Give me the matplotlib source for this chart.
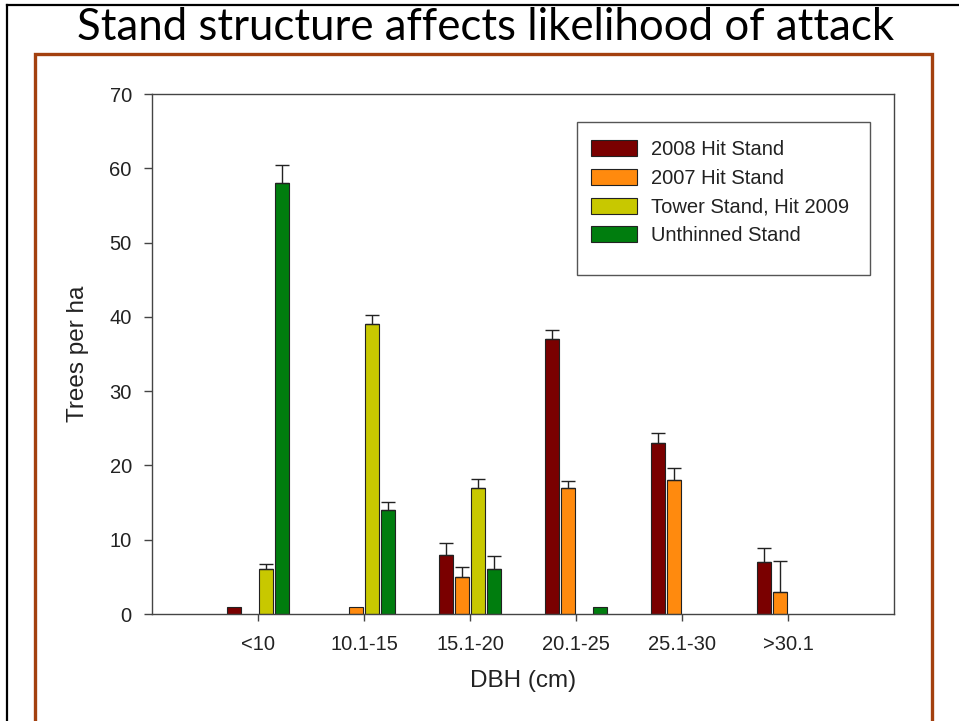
import numpy as np
import matplotlib.pyplot as plt
from matplotlib.patches import Rectangle
from matplotlib.lines import Line2D

# data
categories = ["<10", "10.1-15", "15.1-20", "20.1-25", "25.1-30", ">30.1"]
series_names = ["2008 Hit Stand", "2007 Hit Stand", "Tower Stand, Hit 2009", "Unthinned Stand"]
hit_2008 = [1, 0, 8, 37, 23, 7]
hit_2008_err = [0, 0, 1.5, 1.2, 1.4, 1.9]
hit_2007 = [0, 1, 5, 17, 18, 3]
hit_2007_err = [0, 0, 1.3, 0.9, 1.7, 4.1]
tower_2009 = [6, 39, 17, 0, 0, 0]
tower_2009_err = [0.7, 1.2, 1.2, 0, 0, 0]
unthinned = [58, 14, 6, 1, 0, 0]
unthinned_err = [2.5, 1.1, 1.8, 0, 0, 0]
colors = ["#7a0000", "#ff8a0e", "#c8c800", "#007d0e"]

values = [hit_2008, hit_2007, tower_2009, unthinned]
errors = [hit_2008_err, hit_2007_err, tower_2009_err, unthinned_err]

W, H = 959, 721
fig = plt.figure(figsize=(W / 100, H / 100), dpi=100)
fig.patch.set_facecolor("white")

# slide frame lines
fig.add_artist(Line2D([7 / W, 1], [1 - 5 / H, 1 - 5 / H], color="black", lw=1.6,
                      transform=fig.transFigure))
fig.add_artist(Line2D([7 / W, 7 / W], [0, 1 - 5 / H], color="black", lw=1.6,
                      transform=fig.transFigure))
# brown picture border
fig.add_artist(Rectangle((35 / W, -0.05), (932 - 35) / W, 0.05 + 1 - 54 / H,
                         fill=False, edgecolor="#a3400f", lw=2.4,
                         transform=fig.transFigure))

fig.text(0.5 * (78 + 893) / W, 1 - 40 / H, "Stand structure affects likelihood of attack",
         ha="center", va="baseline", fontsize=31.5, family=["Lato", "DejaVu Sans"])

ax = fig.add_axes([152 / W, 1 - 614 / H, 742 / W, 520 / H])

x = np.arange(1, len(categories) + 1)
slot = 0.151
width = 0.132
for i, (vals, errs, col, name) in enumerate(zip(values, errors, colors, series_names)):
    pos = x + (i - 1.5) * slot
    v = np.array(vals, dtype=float)
    e = np.array(errs, dtype=float)
    keep = v > 0
    ax.bar(pos[keep], v[keep], width=width, color=col, edgecolor="#222222",
           linewidth=0.8, label=name, zorder=2)
    has_err = e > 0
    ax.errorbar(pos[has_err], v[has_err],
                yerr=[np.zeros(has_err.sum()), e[has_err]],
                fmt="none", ecolor="#222222", elinewidth=1.0, capsize=5,
                capthick=1.0, zorder=3)

ax.set_xlim(0, 7)
ax.set_ylim(0, 70)
ax.set_xticks(x)
ax.set_xticklabels(categories)
ax.set_yticks(np.arange(0, 71, 10))

for s in ax.spines.values():
    s.set_color("#444444")
    s.set_linewidth(1.0)
ax.tick_params(axis="y", direction="out", length=6, width=1.0, color="#444444",
               pad=8.5, labelsize=14.5)
ax.tick_params(axis="x", direction="out", length=5, width=1.0, color="#444444",
               pad=10, labelsize=14.5)
for lab in ax.get_xticklabels() + ax.get_yticklabels():
    lab.set_family("Liberation Sans")
    lab.set_color("#222222")

ax.set_ylabel("Trees per ha", fontsize=17.5, family="Liberation Sans", color="#222222")
ax.set_xlabel("DBH (cm)", fontsize=17.5, family="Liberation Sans", color="#222222")
ax.yaxis.set_label_coords(-0.085, 0.5)
ax.xaxis.set_label_coords(0.5, -0.108)

# legend box (SigmaPlot leaves extra room below the entries)
ax.add_patch(Rectangle((0.573, 0.652), 0.395, 0.294, transform=ax.transAxes,
                       fill=False, edgecolor="#555555", lw=1.0, zorder=4))
leg = ax.legend(loc="upper left", bbox_to_anchor=(0.5916, 0.911), borderaxespad=0,
                frameon=False,
                prop={"family": "Liberation Sans", "size": 14.5},
                handlelength=2.3, handleheight=0.85, handletextpad=0.7,
                labelspacing=0.48, borderpad=0)
for t in leg.get_texts():
    t.set_color("#222222")

fig.savefig("out.png", dpi=100)
